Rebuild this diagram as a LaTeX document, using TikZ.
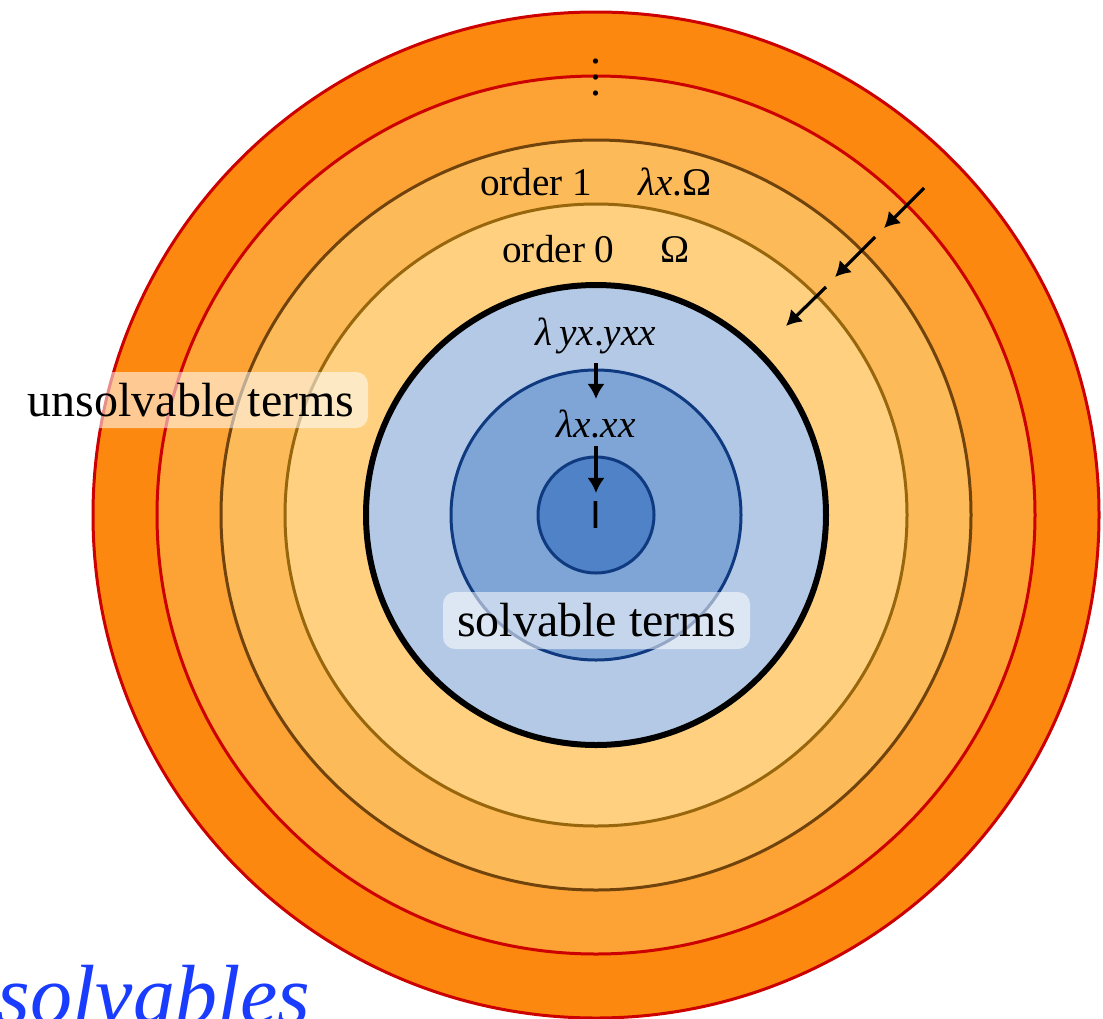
\documentclass[tikz,border=0pt]{standalone}
\usepackage{fontspec}
\setmainfont{Liberation Serif}
\newfontfamily\sansI{Liberation Sans}
\usetikzlibrary{arrows.meta}
\definecolor{ringA}{RGB}{253,136,15}
\definecolor{ringB}{RGB}{253,162,52}
\definecolor{ringC}{RGB}{253,186,89}
\definecolor{ringD}{RGB}{254,208,128}
\definecolor{blueA}{RGB}{180,201,230}
\definecolor{blueB}{RGB}{127,165,215}
\definecolor{blueC}{RGB}{79,130,198}
\definecolor{redline}{RGB}{204,0,0}
\definecolor{brownC}{RGB}{112,66,12}
\definecolor{brownD}{RGB}{152,102,12}
\definecolor{blueline}{RGB}{16,58,128}
\definecolor{titleblue}{RGB}{25,60,255}
\tikzset{
  ring/.style={line width=0.75pt},
  lbl/.style={font=\fontsize{9.8pt}{11pt}\selectfont, inner sep=0pt},
  tagbox/.style={fill=white, fill opacity=0.55, text opacity=1, rounded corners=3pt,
    font=\fontsize{12pt}{14pt}\selectfont, inner sep=0pt},
  arr/.style={line width=0.8pt, -{Latex[length=3.8pt,width=4.4pt]}}
}
\begin{document}
\begin{tikzpicture}[x=0.25pt,y=-0.25pt]
\useasboundingbox (0,0) rectangle (1103,1018);
\fill[white] (0,0) rectangle (1103,1018);
\coordinate (c) at (596,515);
% rings
\filldraw[ring, fill=ringA, draw=redline] (c) circle[radius=503];
\filldraw[ring, fill=ringB, draw=redline] (c) circle[radius=439];
\filldraw[ring, fill=ringC, draw=brownC] (c) circle[radius=375];
\filldraw[ring, fill=ringD, draw=brownD] (c) circle[radius=311];
\filldraw[line width=1.5pt, fill=blueA, draw=black] (c) circle[radius=230];
\filldraw[ring, fill=blueB, draw=blueline] (c) circle[radius=145];
\filldraw[ring, fill=blueC, draw=blueline] (c) circle[radius=58];
% dots
\node[lbl, anchor=base, font=\fontsize{11pt}{13pt}\selectfont] (dots) at (596,95) {$\vdots$};
% order labels
\node[lbl, anchor=base] (ord1) at (596,195) {order 1\hspace{11.5pt}\textit{λx}.Ω};
\node[lbl, anchor=base] (ord0) at (596,262) {order 0\hspace{11.5pt}Ω};
% lambda terms
\node[lbl, anchor=base] (t1) at (596,345) {\textit{λ\,yx}.\textit{yxx}};
\node[lbl, anchor=base] (t2) at (596,437) {\textit{λx}.\textit{xx}};
\node[lbl, font=\fontsize{9.8pt}{11pt}\sansI] (t3) at (596,515) {I};
\coordinate (v1s) at (596,363);
\coordinate (v1e) at (596,399);
\coordinate (v2s) at (596,446);
\coordinate (v2e) at (596,493);
\draw[arr] (v1s) -- (v1e);
\draw[arr] (v2s) -- (v2e);
% diagonal arrows
\coordinate (a1s) at (924,188);
\coordinate (a1e) at (884,228);
\coordinate (a2s) at (875,237);
\coordinate (a2e) at (835,277);
\coordinate (a3s) at (826,287);
\coordinate (a3e) at (786,326);
\draw[arr] (a1s) -- (a1e);
\draw[arr] (a2s) -- (a2e);
\draw[arr] (a3s) -- (a3e);
% tag boxes
\node[tagbox, minimum width=88.5pt, minimum height=14pt] (uns) at (191,400) {unsolvable terms};
\node[tagbox, minimum width=76.75pt, minimum height=14.25pt] (sol) at (596.5,620.5) {solvable terms};
% title fragment
\node[anchor=base west, inner sep=0pt, text=titleblue, font=\fontsize{21pt}{24pt}\selectfont\itshape] (title) at (-3,1023) {solvables};
\end{tikzpicture}
\end{document}
